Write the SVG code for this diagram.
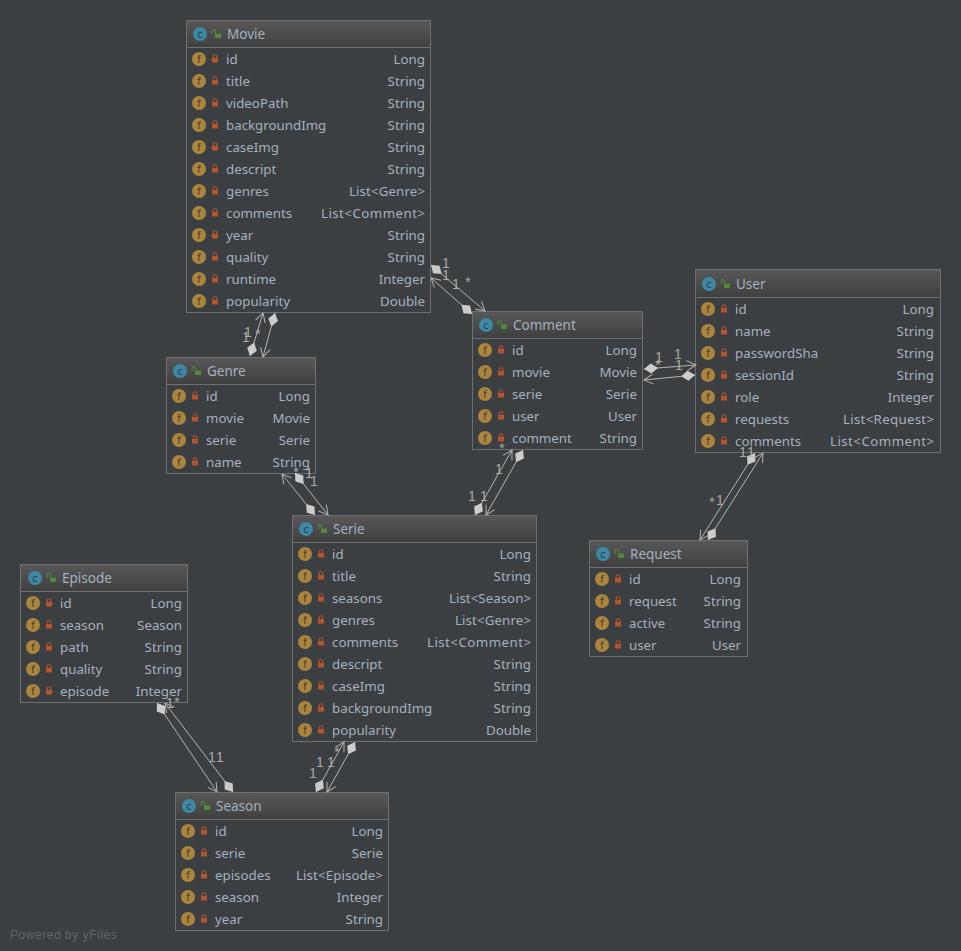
<svg xmlns="http://www.w3.org/2000/svg" width="961" height="951" viewBox="0 0 961 951">
<style>
text{font-family:"Noto Sans","DejaVu Sans",sans-serif;font-size:13.300px;fill:#a4b1be}
.t{font-size:13.500px;fill:#a4b1be}
.r{text-anchor:end}
.box{fill:#3c3f41;stroke:#6d6f70;stroke-width:1}
.sep{stroke:#6d6f70;stroke-width:1}
.hd{fill:url(#hg)}
.c line{stroke:#b4b4b4;stroke-width:1;fill:none;marker-start:url(#dia);marker-end:url(#arr)}
.l{opacity:.92}
.l text{font-family:"Liberation Sans",Arial,sans-serif;font-size:14px;fill:#b4b4b4;text-anchor:middle}
text.by{font-family:"Liberation Sans",Arial,sans-serif;font-size:12px;fill:#626567;letter-spacing:.55px}
text.ic{font-family:"DejaVu Sans",sans-serif;font-size:10px;text-anchor:middle}
</style>
<defs>
<linearGradient id="hg" x1="0" y1="0" x2="0" y2="1"><stop offset="0" stop-color="#585858"/><stop offset="1" stop-color="#3f3f3f"/></linearGradient>
<marker id="dia" markerUnits="userSpaceOnUse" markerWidth="16" markerHeight="14" refX="0" refY="7" orient="auto"><path d="M0 7 7 2 14 7 7 12Z" fill="#cccccc"/></marker>
<marker id="arr" markerUnits="userSpaceOnUse" markerWidth="12" markerHeight="14" refX="10" refY="7" orient="auto"><path d="M1 2 10 7 1 12" fill="none" stroke="#b4b4b4" stroke-width="1"/></marker>
<g id="fi"><circle r="7" fill="#ab843e"/><text class="ic" y="3.500" style="fill:#3f3a2c">f</text><g transform="translate(16 0)"><rect x="-3" y="-1" width="6" height="4.500" fill="#b5532f"/><path d="M-1.800-1V-2.500a1.800 1.800 0 0 1 3.600 0v1.500" fill="none" stroke="#b5532f" stroke-width="1.100"/></g></g>
<g id="ci"><circle r="7" fill="#3d88a5"/><text class="ic" y="3.500" style="fill:#2c3e47">c</text><g transform="translate(16 0)"><rect x="-1" y="-.5" width="6" height="4.500" fill="#54893b"/><path d="M-3.800 0V-2.800a1.600 1.600 0 0 1 3.200 0v2.300" fill="none" stroke="#54893b" stroke-width="1.100"/></g></g>
</defs>
<rect width="961" height="951" fill="#3c3f41"/>

<g id="Movie">
<rect class="box" x="186.500" y="20.500" width="244" height="292"/>
<rect class="hd" x="187" y="21" width="243" height="26"/><line class="sep" x1="186" y1="47.500" x2="431" y2="47.500"/>
<use href="#ci" x="200" y="34"/><text class="t" x="227" y="39">Movie</text>
<use href="#fi" x="199" y="59"/><text x="226" y="64">id</text><text class="r" x="425" y="64">Long</text>
<use href="#fi" x="199" y="81"/><text x="226" y="86">title</text><text class="r" x="425" y="86">String</text>
<use href="#fi" x="199" y="103"/><text x="226" y="108">videoPath</text><text class="r" x="425" y="108">String</text>
<use href="#fi" x="199" y="125"/><text x="226" y="130">backgroundImg</text><text class="r" x="425" y="130">String</text>
<use href="#fi" x="199" y="147"/><text x="226" y="152">caseImg</text><text class="r" x="425" y="152">String</text>
<use href="#fi" x="199" y="169"/><text x="226" y="174">descript</text><text class="r" x="425" y="174">String</text>
<use href="#fi" x="199" y="191"/><text x="226" y="196">genres</text><text class="r" x="425" y="196" textLength="76">List&lt;Genre&gt;</text>
<use href="#fi" x="199" y="213"/><text x="226" y="218">comments</text><text class="r" x="425" y="218" textLength="104">List&lt;Comment&gt;</text>
<use href="#fi" x="199" y="235"/><text x="226" y="240">year</text><text class="r" x="425" y="240">String</text>
<use href="#fi" x="199" y="257"/><text x="226" y="262">quality</text><text class="r" x="425" y="262">String</text>
<use href="#fi" x="199" y="279"/><text x="226" y="284">runtime</text><text class="r" x="425" y="284">Integer</text>
<use href="#fi" x="199" y="301"/><text x="226" y="306">popularity</text><text class="r" x="425" y="306">Double</text>
</g>

<g id="Genre">
<rect class="box" x="166.500" y="357.500" width="149" height="116"/>
<rect class="hd" x="167" y="358" width="148" height="26"/><line class="sep" x1="166" y1="384.500" x2="316" y2="384.500"/>
<use href="#ci" x="180" y="371"/><text class="t" x="207" y="376">Genre</text>
<use href="#fi" x="179" y="396"/><text x="206" y="401">id</text><text class="r" x="310" y="401">Long</text>
<use href="#fi" x="179" y="418"/><text x="206" y="423">movie</text><text class="r" x="310" y="423">Movie</text>
<use href="#fi" x="179" y="440"/><text x="206" y="445">serie</text><text class="r" x="310" y="445">Serie</text>
<use href="#fi" x="179" y="462"/><text x="206" y="467">name</text><text class="r" x="310" y="467">String</text>
</g>

<g id="Comment">
<rect class="box" x="472.500" y="311.500" width="170" height="138"/>
<rect class="hd" x="473" y="312" width="169" height="26"/><line class="sep" x1="472" y1="338.500" x2="643" y2="338.500"/>
<use href="#ci" x="486" y="325"/><text class="t" x="513" y="330">Comment</text>
<use href="#fi" x="485" y="350"/><text x="512" y="355">id</text><text class="r" x="637" y="355">Long</text>
<use href="#fi" x="485" y="372"/><text x="512" y="377">movie</text><text class="r" x="637" y="377">Movie</text>
<use href="#fi" x="485" y="394"/><text x="512" y="399">serie</text><text class="r" x="637" y="399">Serie</text>
<use href="#fi" x="485" y="416"/><text x="512" y="421">user</text><text class="r" x="637" y="421">User</text>
<use href="#fi" x="485" y="438"/><text x="512" y="443">comment</text><text class="r" x="637" y="443">String</text>
</g>

<g id="User">
<rect class="box" x="695.500" y="269.500" width="245" height="183"/>
<rect class="hd" x="696" y="270" width="244" height="27"/><line class="sep" x1="695" y1="297.500" x2="941" y2="297.500"/>
<use href="#ci" x="709" y="284"/><text class="t" x="736" y="289">User</text>
<use href="#fi" x="708" y="309"/><text x="735" y="314">id</text><text class="r" x="934" y="314">Long</text>
<use href="#fi" x="708" y="331"/><text x="735" y="336">name</text><text class="r" x="934" y="336">String</text>
<use href="#fi" x="708" y="353"/><text x="735" y="358">passwordSha</text><text class="r" x="934" y="358">String</text>
<use href="#fi" x="708" y="375"/><text x="735" y="380">sessionId</text><text class="r" x="934" y="380">String</text>
<use href="#fi" x="708" y="397"/><text x="735" y="402">role</text><text class="r" x="934" y="402">Integer</text>
<use href="#fi" x="708" y="419"/><text x="735" y="424">requests</text><text class="r" x="934" y="424" textLength="91">List&lt;Request&gt;</text>
<use href="#fi" x="708" y="441"/><text x="735" y="446">comments</text><text class="r" x="934" y="446" textLength="104">List&lt;Comment&gt;</text>
</g>

<g id="Serie">
<rect class="box" x="292.500" y="515.500" width="244" height="226"/>
<rect class="hd" x="293" y="516" width="243" height="26"/><line class="sep" x1="292" y1="542.500" x2="537" y2="542.500"/>
<use href="#ci" x="306" y="529"/><text class="t" x="333" y="534">Serie</text>
<use href="#fi" x="305" y="554"/><text x="332" y="559">id</text><text class="r" x="531" y="559">Long</text>
<use href="#fi" x="305" y="576"/><text x="332" y="581">title</text><text class="r" x="531" y="581">String</text>
<use href="#fi" x="305" y="598"/><text x="332" y="603">seasons</text><text class="r" x="531" y="603" textLength="82">List&lt;Season&gt;</text>
<use href="#fi" x="305" y="620"/><text x="332" y="625">genres</text><text class="r" x="531" y="625" textLength="76">List&lt;Genre&gt;</text>
<use href="#fi" x="305" y="642"/><text x="332" y="647">comments</text><text class="r" x="531" y="647" textLength="104">List&lt;Comment&gt;</text>
<use href="#fi" x="305" y="664"/><text x="332" y="669">descript</text><text class="r" x="531" y="669">String</text>
<use href="#fi" x="305" y="686"/><text x="332" y="691">caseImg</text><text class="r" x="531" y="691">String</text>
<use href="#fi" x="305" y="708"/><text x="332" y="713">backgroundImg</text><text class="r" x="531" y="713">String</text>
<use href="#fi" x="305" y="730"/><text x="332" y="735">popularity</text><text class="r" x="531" y="735">Double</text>
</g>

<g id="Episode">
<rect class="box" x="20.500" y="564.500" width="167" height="138"/>
<rect class="hd" x="21" y="565" width="166" height="26"/><line class="sep" x1="20" y1="591.500" x2="188" y2="591.500"/>
<use href="#ci" x="35" y="578"/><text class="t" x="62" y="583">Episode</text>
<use href="#fi" x="33" y="603"/><text x="60" y="608">id</text><text class="r" x="182" y="608">Long</text>
<use href="#fi" x="33" y="625"/><text x="60" y="630">season</text><text class="r" x="182" y="630">Season</text>
<use href="#fi" x="33" y="647"/><text x="60" y="652">path</text><text class="r" x="182" y="652">String</text>
<use href="#fi" x="33" y="669"/><text x="60" y="674">quality</text><text class="r" x="182" y="674">String</text>
<use href="#fi" x="33" y="691"/><text x="60" y="696">episode</text><text class="r" x="182" y="696">Integer</text>
</g>

<g id="Request">
<rect class="box" x="589.500" y="540.500" width="158" height="116"/>
<rect class="hd" x="590" y="541" width="157" height="26"/><line class="sep" x1="589" y1="567.500" x2="748" y2="567.500"/>
<use href="#ci" x="603" y="554"/><text class="t" x="630" y="559">Request</text>
<use href="#fi" x="602" y="579"/><text x="629" y="584">id</text><text class="r" x="741" y="584">Long</text>
<use href="#fi" x="602" y="601"/><text x="629" y="606">request</text><text class="r" x="741" y="606">String</text>
<use href="#fi" x="602" y="623"/><text x="629" y="628">active</text><text class="r" x="741" y="628">String</text>
<use href="#fi" x="602" y="645"/><text x="629" y="650">user</text><text class="r" x="741" y="650">User</text>
</g>

<g id="Season">
<rect class="box" x="175.500" y="792.500" width="213" height="138"/>
<rect class="hd" x="176" y="793" width="212" height="26"/><line class="sep" x1="175" y1="819.500" x2="389" y2="819.500"/>
<use href="#ci" x="189" y="806"/><text class="t" x="216" y="811">Season</text>
<use href="#fi" x="188" y="831"/><text x="215" y="836">id</text><text class="r" x="383" y="836">Long</text>
<use href="#fi" x="188" y="853"/><text x="215" y="858">serie</text><text class="r" x="383" y="858">Serie</text>
<use href="#fi" x="188" y="875"/><text x="215" y="880">episodes</text><text class="r" x="383" y="880" textLength="87">List&lt;Episode&gt;</text>
<use href="#fi" x="188" y="897"/><text x="215" y="902">season</text><text class="r" x="383" y="902">Integer</text>
<use href="#fi" x="188" y="919"/><text x="215" y="924">year</text><text class="r" x="383" y="924">String</text>
</g>

<g id="connectors" class="c">
<line x1="431" y1="265" x2="485" y2="311"/>
<line x1="472" y1="314" x2="431" y2="278"/>
<line x1="644" y1="369" x2="696" y2="365"/>
<line x1="695" y1="375" x2="644" y2="380"/>
<line x1="250" y1="356" x2="263" y2="313"/>
<line x1="275" y1="313" x2="263" y2="357"/>
<line x1="315" y1="515" x2="282" y2="474"/>
<line x1="295" y1="473" x2="328" y2="515"/>
<line x1="475" y1="515" x2="512" y2="450"/>
<line x1="523" y1="450" x2="486" y2="515"/>
<line x1="755" y1="453" x2="700" y2="540"/>
<line x1="708" y1="540" x2="763" y2="453"/>
<line x1="157" y1="703" x2="217" y2="792"/>
<line x1="233" y1="792" x2="165" y2="703"/>
<line x1="316" y1="792" x2="344" y2="742"/>
<line x1="355" y1="742" x2="327" y2="792"/>
</g>
<g id="connector-labels" class="l">
<text x="446" y="268">1</text><text x="446" y="280">1</text><text x="456" y="289">1</text><text x="468" y="287">*</text>
<text x="659" y="362">1</text><text x="658" y="370">*</text><text x="678" y="359">1</text><text x="679" y="370">1</text>
<text x="248" y="337">1</text><text x="246" y="342">1</text><text x="258" y="339">*</text>
<text x="296" y="477">*</text><text x="309" y="478">1</text><text x="314" y="486">1</text>
<text x="502" y="453">*</text><text x="499" y="474">1</text><text x="472" y="501">1</text><text x="484" y="501">1</text>
<text x="743" y="457">1</text><text x="751" y="457">1</text><text x="712" y="507">*</text><text x="720" y="505">1</text>
<text x="170" y="708">1</text><text x="177" y="707">*</text><text x="212" y="762">1</text><text x="220" y="762">1</text>
<text x="320" y="767">1</text><text x="331" y="767">1</text><text x="313" y="778">1</text><text x="337" y="757">*</text>
</g>

<text class="by" x="10" y="939">Powered by yFiles</text>
</svg>
